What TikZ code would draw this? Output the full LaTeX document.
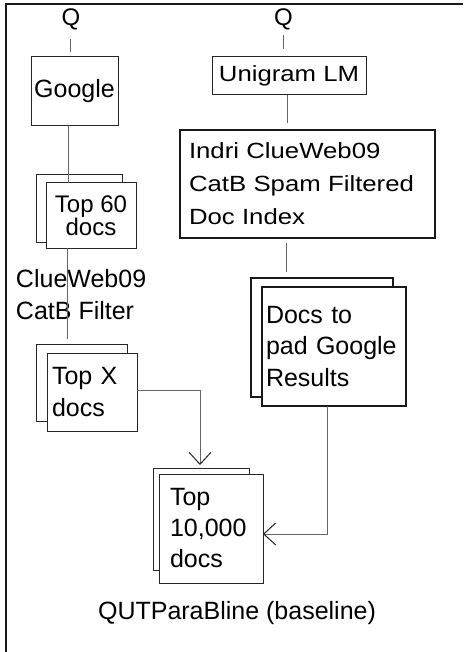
\documentclass[tikz,border=0pt]{standalone}
\usepackage{fontspec}
\setmainfont{Liberation Sans}
\newfontfamily\wfont[FakeStretch=1.17]{Liberation Sans}
\usetikzlibrary{arrows.meta}
\newcommand\tightlines{\lineskiplimit -50pt\relax}
\begin{document}
\begin{tikzpicture}[x=1pt,y=-1pt,
  box/.style={draw=black!85, line width=1pt, fill=white, inner sep=0pt, outer sep=0pt},
  thickbox/.style={box, line width=2pt, draw=black!90},
  conn/.style={draw=black!60, line width=1pt},
  barb/.style={-{Straight Barb[length=12pt,width=22pt,line width=1pt,color=black!85]}},
  lbl/.style={inner sep=0pt, outer sep=0pt},
  ]
\useasboundingbox (0,0) rectangle (463,652);
% outer frame (only top and left edges visible)
\draw[line width=2pt, black!90] (6,652) -- (6,4) -- (463,4);

% labels Q
\node[lbl, font=\fontsize{24}{28}\selectfont] (qL) at (71,19) {Q};
\node[lbl, font=\fontsize{24}{28}\selectfont] (qR) at (283.5,19) {Q};

% left column
\node[box, minimum width=87pt, minimum height=69pt, font=\fontsize{25}{30}\selectfont] (google) at (74.5,91.5) {Google};
\node[box, minimum width=86pt, minimum height=67pt] (top60b) at (79,208.5) {};
\node[box, minimum width=90pt, minimum height=65pt, align=center,
      font=\fontsize{24}{23}\selectfont\tightlines] (top60) at (91,215.5) {Top 60\\docs};
\node[lbl, anchor=west, align=left, font=\fontsize{25}{32}\selectfont] (filter) at (16,295) {ClueWeb09\\CatB Filter};
\node[box, minimum width=91pt, minimum height=77pt] (topxb) at (81.5,382.5) {};
\node[box, minimum width=90pt, minimum height=78pt, inner xsep=5pt, text width=80pt, align=left,
      font=\fontsize{25}{32}\selectfont] (topx) at (92,392) {Top X\\docs};

% right column
\node[box, minimum width=154pt, minimum height=38pt, font=\wfont\fontsize{22}{26}\selectfont] (uni) at (289,76) {Unigram LM};
\node[thickbox, minimum width=255pt, minimum height=108pt, inner xsep=9pt, text width=237pt, align=left,
      font=\wfont\fontsize{22}{33}\selectfont] (indri) at (307.5,184) {Indri ClueWeb09\\CatB Spam Filtered\\Doc Index};
\node[thickbox, minimum width=142pt, minimum height=119pt] (docsb) at (322,337.5) {};
\node[thickbox, minimum width=144pt, minimum height=119pt, inner xsep=4pt, text width=136pt, align=left,
      font=\fontsize{25}{31.5}\selectfont] (docs) at (334,346.5) {Docs to\\pad Google\\Results};

% bottom result
\node[box, minimum width=96pt, minimum height=102pt] (top10kb) at (201,519) {};
\node[box, minimum width=104pt, minimum height=109pt, inner xsep=11pt, text width=82pt, align=left,
      font=\fontsize{25}{31}\selectfont] (top10k) at (211,528.5) {Top\\10,000\\docs};

\node[lbl, font=\fontsize{25}{30}\selectfont] (caption) at (237,613) {QUTParaBline (baseline)};

% connectors
\draw[conn, shorten <=9pt, shorten >=5pt] ([xshift=-1pt]qL.south) -- ([xshift=-1pt]qL.south |- google.north);
\draw[conn] ([xshift=-6.5pt]google.south) -- ([xshift=-6.5pt]google.south |- top60.north);
\draw[conn, shorten >=5pt] ([xshift=-24pt]top60.south) -- ([xshift=-24pt]top60.south |- topxb.north);
\draw[conn, shorten <=5pt, shorten >=8pt] (qR.south) -- (qR.south |- uni.north);
\draw[conn, shorten >=7pt] ([xshift=-2pt]uni.south) -- ([xshift=-2pt]uni.south |- indri.north);
\draw[conn, shorten <=5pt, shorten >=6pt] ([xshift=-21.5pt]indri.south) -- ([xshift=-21.5pt]indri.south |- docsb.north);
\draw[conn, barb] ([xshift=-7pt]docs.south) |- ([yshift=-5.5pt]top10k.east);
\draw[conn, barb, shorten >=3pt] ([yshift=2pt]topx.east) -| ([xshift=-1pt]top10kb.north);
\end{tikzpicture}
\end{document}
